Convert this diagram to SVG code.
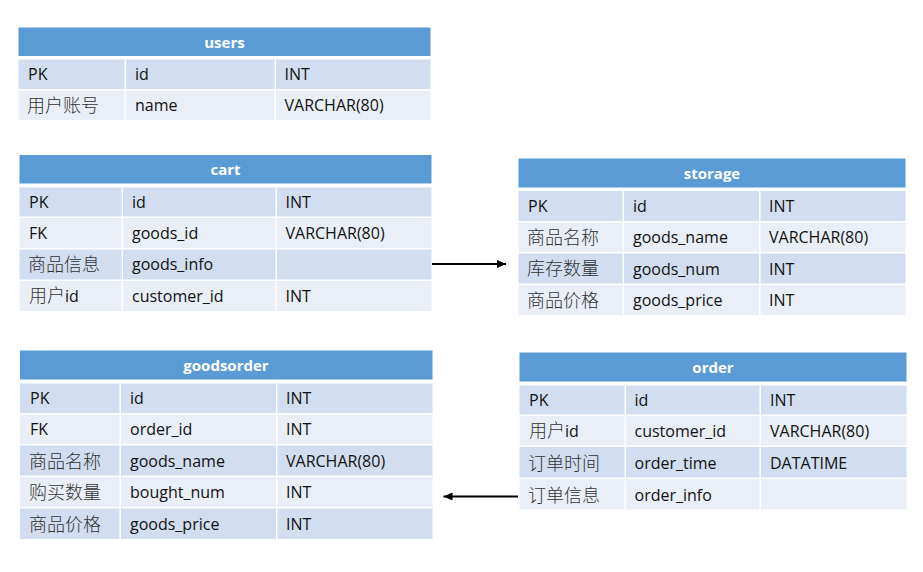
<svg xmlns="http://www.w3.org/2000/svg" width="923" height="572" viewBox="0 0 923 572">
  <style>
    .h { fill: #5B9BD5; }
    .a { fill: #D2DEEF; }
    .b { fill: #EAEFF7; }
    text { font-family: "Open Sans", "Liberation Sans", "Noto Sans CJK SC", sans-serif; font-size: 16px; fill: #111111; }
    .ht { font-weight: bold; font-size: 15px; fill: #FFFFFF; text-anchor: middle; }
    .cjk { font-family: "Noto Sans CJK SC", "Open Sans", sans-serif; font-size: 18px; font-weight: 300; fill: #333333; }
    .link { stroke: #000000; stroke-width: 2; fill: none; }
  </style>
  <defs>
    <marker id="arrow" markerWidth="10" markerHeight="10" refX="9" refY="5" orient="auto" markerUnits="userSpaceOnUse">
      <path d="M0,1 L9,5 L0,9 Z" fill="#000000"/>
    </marker>
  </defs>
  <rect width="923" height="572" fill="#FFFFFF"/>

  <!-- users -->
  <g id="users">
    <rect class="h" x="18.5" y="27.5" width="412" height="28.5"/>
    <text class="ht" x="224.5" y="47.5">users</text>
    <rect class="a" x="18.5" y="59.5" width="106" height="29.5"/>
    <rect class="a" x="126" y="59.5" width="148.5" height="29.5"/>
    <rect class="a" x="276" y="59.5" width="154.5" height="29.5"/>
    <rect class="b" x="18.5" y="90.5" width="106" height="29.5"/>
    <rect class="b" x="126" y="90.5" width="148.5" height="29.5"/>
    <rect class="b" x="276" y="90.5" width="154.5" height="29.5"/>
    <text x="28" y="79.8">PK</text>
    <text x="135" y="79.8">id</text>
    <text x="284.5" y="79.8">INT</text>
    <text class="cjk" x="27" y="111.5">用户账号</text>
    <text x="135" y="110.8">name</text>
    <text x="284.5" y="110.8">VARCHAR(80)</text>
  </g>

  <!-- cart -->
  <g id="cart">
    <rect class="h" x="19.5" y="155" width="412" height="28.5"/>
    <text class="ht" x="225.5" y="175">cart</text>
    <rect class="a" x="19.5" y="187.5" width="102" height="29"/>
    <rect class="a" x="123" y="187.5" width="152.5" height="29"/>
    <rect class="a" x="277" y="187.5" width="154.5" height="29"/>
    <rect class="b" x="19.5" y="218" width="102" height="30"/>
    <rect class="b" x="123" y="218" width="152.5" height="30"/>
    <rect class="b" x="277" y="218" width="154.5" height="30"/>
    <rect class="a" x="19.5" y="249.5" width="102" height="30"/>
    <rect class="a" x="123" y="249.5" width="152.5" height="30"/>
    <rect class="a" x="277" y="249.5" width="154.5" height="30"/>
    <rect class="b" x="19.5" y="281" width="102" height="30"/>
    <rect class="b" x="123" y="281" width="152.5" height="30"/>
    <rect class="b" x="277" y="281" width="154.5" height="30"/>
    <text x="29" y="207.5">PK</text>
    <text x="132" y="207.5">id</text>
    <text x="285.5" y="207.5">INT</text>
    <text x="29" y="238.5">FK</text>
    <text x="132" y="238.5">goods_id</text>
    <text x="285.5" y="238.5">VARCHAR(80)</text>
    <text class="cjk" x="28" y="271">商品信息</text>
    <text x="132" y="270">goods_info</text>
    <text x="29" y="302"><tspan class="cjk">用户</tspan>id</text>
    <text x="132" y="302">customer_id</text>
    <text x="285.5" y="302">INT</text>
  </g>

  <!-- storage -->
  <g id="storage">
    <rect class="h" x="518.5" y="158.5" width="387" height="29"/>
    <text class="ht" x="712" y="178.8">storage</text>
    <rect class="a" x="518.5" y="191" width="104" height="30"/>
    <rect class="a" x="624" y="191" width="135" height="30"/>
    <rect class="a" x="760.5" y="191" width="145" height="30"/>
    <rect class="b" x="518.5" y="222.5" width="104" height="29.5"/>
    <rect class="b" x="624" y="222.5" width="135" height="29.5"/>
    <rect class="b" x="760.5" y="222.5" width="145" height="29.5"/>
    <rect class="a" x="518.5" y="253.5" width="104" height="30"/>
    <rect class="a" x="624" y="253.5" width="135" height="30"/>
    <rect class="a" x="760.5" y="253.5" width="145" height="30"/>
    <rect class="b" x="518.5" y="285" width="104" height="30"/>
    <rect class="b" x="624" y="285" width="135" height="30"/>
    <rect class="b" x="760.5" y="285" width="145" height="30"/>
    <text x="528" y="211.5">PK</text>
    <text x="633" y="211.5">id</text>
    <text x="769" y="211.5">INT</text>
    <text class="cjk" x="527" y="244">商品名称</text>
    <text x="633" y="243">goods_name</text>
    <text x="769" y="243">VARCHAR(80)</text>
    <text class="cjk" x="527" y="275">库存数量</text>
    <text x="633" y="274.5">goods_num</text>
    <text x="769" y="274.5">INT</text>
    <text class="cjk" x="527" y="306.5">商品价格</text>
    <text x="633" y="306">goods_price</text>
    <text x="769" y="306">INT</text>
  </g>

  <!-- goodsorder -->
  <g id="goodsorder">
    <rect class="h" x="20" y="350.5" width="412.5" height="29"/>
    <text class="ht" x="226" y="371">goodsorder</text>
    <rect class="a" x="20" y="383.5" width="99.5" height="29.5"/>
    <rect class="a" x="121" y="383.5" width="155" height="29.5"/>
    <rect class="a" x="277.5" y="383.5" width="155" height="29.5"/>
    <rect class="b" x="20" y="414.5" width="99.5" height="29.5"/>
    <rect class="b" x="121" y="414.5" width="155" height="29.5"/>
    <rect class="b" x="277.5" y="414.5" width="155" height="29.5"/>
    <rect class="a" x="20" y="445.5" width="99.5" height="30"/>
    <rect class="a" x="121" y="445.5" width="155" height="30"/>
    <rect class="a" x="277.5" y="445.5" width="155" height="30"/>
    <rect class="b" x="20" y="477" width="99.5" height="30"/>
    <rect class="b" x="121" y="477" width="155" height="30"/>
    <rect class="b" x="277.5" y="477" width="155" height="30"/>
    <rect class="a" x="20" y="508.5" width="99.5" height="30.5"/>
    <rect class="a" x="121" y="508.5" width="155" height="30.5"/>
    <rect class="a" x="277.5" y="508.5" width="155" height="30.5"/>
    <text x="30" y="404">PK</text>
    <text x="130" y="404">id</text>
    <text x="286" y="404">INT</text>
    <text x="30" y="435">FK</text>
    <text x="130" y="435">order_id</text>
    <text x="286" y="435">INT</text>
    <text class="cjk" x="29" y="467.5">商品名称</text>
    <text x="130" y="466.5">goods_name</text>
    <text x="286" y="466.5">VARCHAR(80)</text>
    <text class="cjk" x="29" y="499">购买数量</text>
    <text x="130" y="498">bought_num</text>
    <text x="286" y="498">INT</text>
    <text class="cjk" x="29" y="530.5">商品价格</text>
    <text x="130" y="529.5">goods_price</text>
    <text x="286" y="529.5">INT</text>
  </g>

  <!-- order -->
  <g id="order">
    <rect class="h" x="519.5" y="352.5" width="387" height="29"/>
    <text class="ht" x="713" y="373">order</text>
    <rect class="a" x="519.5" y="385.5" width="105" height="29"/>
    <rect class="a" x="626" y="385.5" width="133.5" height="29"/>
    <rect class="a" x="761" y="385.5" width="145.5" height="29"/>
    <rect class="b" x="519.5" y="416" width="105" height="29.5"/>
    <rect class="b" x="626" y="416" width="133.5" height="29.5"/>
    <rect class="b" x="761" y="416" width="145.5" height="29.5"/>
    <rect class="a" x="519.5" y="447" width="105" height="30.5"/>
    <rect class="a" x="626" y="447" width="133.5" height="30.5"/>
    <rect class="a" x="761" y="447" width="145.5" height="30.5"/>
    <rect class="b" x="519.5" y="479" width="105" height="30.5"/>
    <rect class="b" x="626" y="479" width="133.5" height="30.5"/>
    <rect class="b" x="761" y="479" width="145.5" height="30.5"/>
    <text x="529" y="405.5">PK</text>
    <text x="634.5" y="405.5">id</text>
    <text x="770" y="405.5">INT</text>
    <text x="529" y="437"><tspan class="cjk">用户</tspan>id</text>
    <text x="634.5" y="437">customer_id</text>
    <text x="770" y="437">VARCHAR(80)</text>
    <text class="cjk" x="528" y="469.5">订单时间</text>
    <text x="634.5" y="468.5">order_time</text>
    <text x="770" y="468.5">DATATIME</text>
    <text class="cjk" x="528" y="501.5">订单信息</text>
    <text x="634.5" y="500.5">order_info</text>
  </g>

  <!-- connectors -->
  <g id="connectors">
    <line class="link" x1="432" y1="264" x2="506" y2="264" marker-end="url(#arrow)"/>
    <line class="link" x1="518" y1="496.5" x2="443.5" y2="496.5" marker-end="url(#arrow)"/>
  </g>
</svg>
